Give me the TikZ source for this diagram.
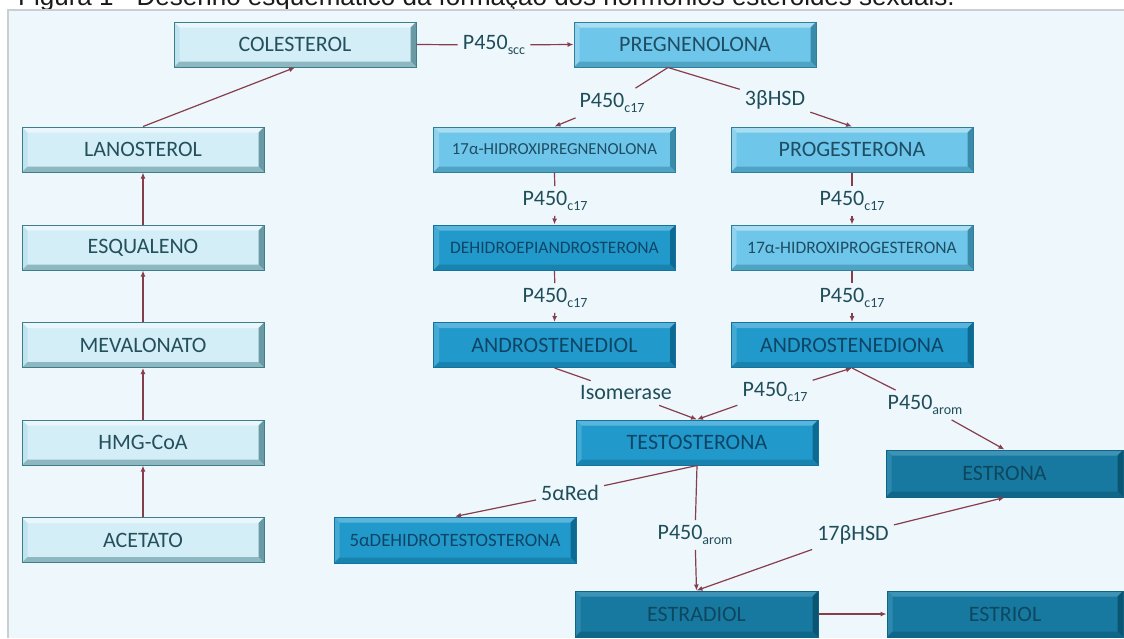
\documentclass[tikz,border=0pt]{standalone}
\usepackage{fontspec}
\setmainfont{Carlito}
\newfontfamily\capfont{Liberation Sans}
\usetikzlibrary{arrows.meta}
\definecolor{bg}{HTML}{EEF7FB}
\definecolor{ink}{HTML}{863D4C}
\definecolor{lbl}{HTML}{1F4E5B}
\definecolor{frame}{HTML}{C8D0D4}
\definecolor{captxt}{HTML}{1A1A1A}
% light
\definecolor{Lf}{HTML}{D4EEF8}\definecolor{Ld}{HTML}{3F7D88}\definecolor{Lt}{HTML}{24505C}
\definecolor{L1}{HTML}{E9F7FC}\definecolor{L2}{HTML}{BFE3EF}\definecolor{L3}{HTML}{6A9BA5}\definecolor{L4}{HTML}{8DB8C1}
% medium
\definecolor{Mf}{HTML}{6EC6EA}\definecolor{Md}{HTML}{2E7E9C}\definecolor{Mt}{HTML}{1F4D63}
\definecolor{M1}{HTML}{A8DDF2}\definecolor{M2}{HTML}{8ED2EE}\definecolor{M3}{HTML}{3A8BAA}\definecolor{M4}{HTML}{4FA4C4}
% dark
\definecolor{Df}{HTML}{219ACB}\definecolor{Dd}{HTML}{13739C}\definecolor{Dt}{HTML}{0E4566}
\definecolor{D1}{HTML}{5AB5DC}\definecolor{D2}{HTML}{44AAD4}\definecolor{D3}{HTML}{0D6B93}\definecolor{D4}{HTML}{1883AF}
% teal
\definecolor{Tf}{HTML}{1879A0}\definecolor{Td}{HTML}{0F6485}\definecolor{Tt}{HTML}{0D4760}
\definecolor{T1}{HTML}{3D93B6}\definecolor{T2}{HTML}{2C88AD}\definecolor{T3}{HTML}{0A5572}\definecolor{T4}{HTML}{106688}
\newcommand\fbig{\fontsize{22}{26}\selectfont}
\newcommand\fsz[1]{\fontsize{#1}{#1}\selectfont}
\newcommand\sbs[1]{\raisebox{-5pt}{\fontsize{14}{14}\selectfont #1}}
\newlength\bw \setlength\bw{5.5pt}
\newcommand\bevelpic[1]{%
 \fill[#11] (path picture bounding box.north west) -- (path picture bounding box.north east)
   -- ([shift={(-\bw,-\bw)}]path picture bounding box.north east) -- ([shift={(\bw,-\bw)}]path picture bounding box.north west) -- cycle;
 \fill[#12] (path picture bounding box.north west) -- (path picture bounding box.south west)
   -- ([shift={(\bw,\bw)}]path picture bounding box.south west) -- ([shift={(\bw,-\bw)}]path picture bounding box.north west) -- cycle;
 \fill[#13] (path picture bounding box.north east) -- (path picture bounding box.south east)
   -- ([shift={(-\bw,\bw)}]path picture bounding box.south east) -- ([shift={(-\bw,-\bw)}]path picture bounding box.north east) -- cycle;
 \fill[#14] (path picture bounding box.south west) -- (path picture bounding box.south east)
   -- ([shift={(-\bw,\bw)}]path picture bounding box.south east) -- ([shift={(\bw,\bw)}]path picture bounding box.south west) -- cycle;
}
\tikzset{
 box/.style={rectangle, inner sep=0pt, minimum width=242pt, minimum height=45pt, line width=1pt, font=\fbig},
 boxL/.style={box, fill=Lf, draw=Ld, text=Lt, path picture={\bevelpic{L}}},
 boxM/.style={box, fill=Mf, draw=Md, text=Mt, path picture={\bevelpic{M}}},
 boxD/.style={box, fill=Df, draw=Dd, text=Dt, path picture={\bevelpic{D}}},
 boxT/.style={box, fill=Tf, draw=Td, text=Tt, path picture={\bevelpic{T}}},
 lab/.style={inner sep=5pt, text=lbl, font=\fbig},
 ln/.style={draw=ink, line width=1.2pt},
 arr/.style={ln, -{Latex[length=6pt,width=5pt]}},
}
\begin{document}
\begin{tikzpicture}[x=1pt,y=-1pt]
\useasboundingbox (0,0) rectangle (1124,638);
\fill[white] (0,0) rectangle (1124,638);
\begin{scope}
\clip (0,0) rectangle (1124,638);
\node[anchor=base west, inner sep=0pt, font=\capfont\fontsize{26}{30}\selectfont, text=captxt] (cap) at (18,5.5) {Figura 1 - Desenho esquemático da formação dos hormônios esteroides sexuais.};
\end{scope}
\fill[bg] (8,10) rectangle (1124,638);
\draw[frame, line width=1.2pt] (8,638) -- (8,10) -- (1124,10);

% boxes
\node[boxL] (col) at (295,44.5) {COLESTEROL};
\node[boxM] (preg) at (695,44.5) {PREGNENOLONA};
\node[boxL] (lan) at (143,149.5) {LANOSTEROL};
\node[boxL] (esq) at (143,247.5) {ESQUALENO};
\node[boxL] (mev) at (143,345) {MEVALONATO};
\node[boxL] (hmg) at (143,442.5) {HMG-CoA};
\node[boxL] (ace) at (143,540) {ACETATO};
\node[boxM, font=\fsz{16.8}] (ohpreg) at (554.5,149.5) {17α-HIDROXIPREGNENOLONA};
\node[boxM] (prog) at (852,149.5) {PROGESTERONA};
\node[boxD, font=\fsz{17.5}] (dhea) at (554.5,247.5) {DEHIDROEPIANDROSTERONA};
\node[boxM, font=\fsz{17.5}] (ohprog) at (852,247.5) {17α-HIDROXIPROGESTERONA};
\node[boxD] (adiol) at (554.5,345) {ANDROSTENEDIOL};
\node[boxD] (adiona) at (852,345) {ANDROSTENEDIONA};
\node[boxD] (test) at (697,442.5) {TESTOSTERONA};
\node[boxT, minimum width=237pt, minimum height=47pt] (estrona) at (1004.5,473.5) {ESTRONA};
\node[boxD, font=\fsz{18.8}, minimum height=46pt] (dht) at (455,540) {5αDEHIDROTESTOSTERONA};
\node[boxT, minimum width=243pt, minimum height=46pt] (estradiol) at (696.5,614) {ESTRADIOL};
\node[boxT, minimum width=236pt, minimum height=46pt] (estriol) at (1005,614) {ESTRIOL};

% labels
\node[lab] (lscc) at (494,45) {P450\sbs{scc}};
\node[lab] (l1) at (612,103) {P450\sbs{c17}};
\node[lab] (l2) at (775,100) {3βHSD};
\node[lab] (l3) at (555,201) {P450\sbs{c17}};
\node[lab] (l4) at (555,298) {P450\sbs{c17}};
\node[lab] (l5) at (852,201) {P450\sbs{c17}};
\node[lab] (l6) at (852,298) {P450\sbs{c17}};
\node[lab] (liso) at (626,393) {Isomerase};
\node[lab] (lc17m) at (775,392) {P450\sbs{c17}};
\node[lab] (larom1) at (925,405) {P450\sbs{arom}};
\node[lab] (lred) at (570,493) {5αRed};
\node[lab] (larom2) at (695,535) {P450\sbs{arom}};
\node[lab] (lhsd) at (853,535) {17βHSD};

% connectors
\coordinate (apex) at ([xshift=-27pt]preg.south);
\draw[ln] (col.east) -- (lscc); \draw[arr] (lscc) -- (preg.west);
\draw[ln] (apex) -- (l1); \draw[arr] (l1) -- (ohpreg.north);
\draw[ln] (apex) -- (l2); \draw[arr] (l2) -- (prog.north);
\draw[ln] (ohpreg.south) -- (l3); \draw[arr] (l3) -- (dhea.north);
\draw[ln] (dhea.south) -- (l4); \draw[arr] (l4) -- (adiol.north);
\draw[ln] (prog.south) -- (l5); \draw[arr] (l5) -- (ohprog.north);
\draw[ln] (ohprog.south) -- (l6); \draw[arr] (l6) -- (adiona.north);
\draw[ln] (adiol.south) -- (liso); \draw[arr] (liso) -- (test.north);
\draw[arr] (lc17m) -- (adiona.south); \draw[arr] (lc17m) -- (test.north);
\draw[ln] (adiona.south) -- (larom1); \draw[arr] (larom1) -- (estrona.north);
\draw[ln] (test.south) -- (lred); \draw[arr] (lred) -- (dht.north);
\draw[ln] (test.south) -- (larom2); \draw[arr] (larom2) -- (estradiol.north);
\draw[arr] (lhsd) -- (estrona.south); \draw[arr] (lhsd) -- (estradiol.north);
\draw[arr] (estradiol.east) -- (estriol.west);
\draw[arr] (ace.north) -- (hmg.south);
\draw[arr] (hmg.north) -- (mev.south);
\draw[arr] (mev.north) -- (esq.south);
\draw[arr] (esq.north) -- (lan.south);
\draw[arr] (lan.north) -- (col.south);
\end{tikzpicture}
\end{document}
